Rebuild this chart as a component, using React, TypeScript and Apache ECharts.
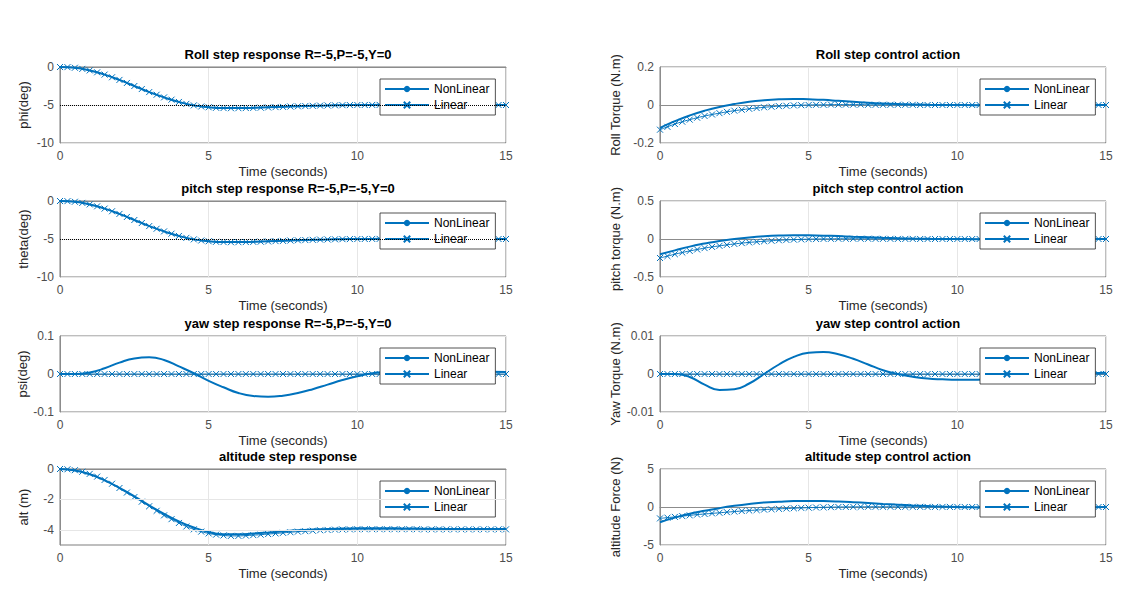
import React, { useEffect, useRef } from 'react';
import * as echarts from 'echarts';

// nonlinear sampled every 0.5 s, linear every 0.25 s
const tNon = Array.from({ length: 31 }, (_, i) => i * 0.5);
const tLin = Array.from({ length: 61 }, (_, i) => i * 0.25);

const rollNon = [0, -0.1, -0.45, -1.0, -1.7, -2.5, -3.3, -4.0, -4.6, -5.05, -5.3, -5.4, -5.4, -5.36, -5.3, -5.24, -5.17, -5.11, -5.06, -5.02, -5.0, -4.99, -4.98, -4.98, -4.98, -4.98, -4.98, -4.98, -4.99, -4.99, -5.0];
const rollLin = [0, -0.02, -0.1, -0.25, -0.45, -0.7, -1.0, -1.35, -1.7, -2.1, -2.5, -2.9, -3.3, -3.65, -4.0, -4.3, -4.6, -4.85, -5.05, -5.2, -5.3, -5.37, -5.4, -5.42, -5.42, -5.4, -5.38, -5.35, -5.32, -5.28, -5.25, -5.2, -5.17, -5.14, -5.11, -5.08, -5.06, -5.04, -5.02, -5.01, -5.0, -5.0, -4.99, -4.99, -4.98, -4.98, -4.98, -4.98, -4.98, -4.98, -4.98, -4.98, -4.98, -4.98, -4.99, -4.99, -4.99, -4.99, -5.0, -5.0, -5.0];
const yawNon = [0, 0, 0.004, 0.015, 0.03, 0.041, 0.044, 0.037, 0.02, 0.002, -0.018, -0.035, -0.05, -0.058, -0.06, -0.057, -0.05, -0.04, -0.028, -0.016, -0.006, 0.002, 0.007, 0.01, 0.011, 0.01, 0.009, 0.008, 0.007, 0.006, 0.005];
const yawLin = Array(61).fill(0);
const altNon = [0, -0.1, -0.35, -0.75, -1.25, -1.8, -2.4, -2.95, -3.45, -3.85, -4.15, -4.3, -4.3, -4.25, -4.18, -4.1, -4.03, -3.98, -3.94, -3.92, -3.9, -3.9, -3.9, -3.91, -3.92, -3.93, -3.94, -3.95, -3.95, -3.95, -3.95];
const altLin = [0, -0.02, -0.08, -0.18, -0.32, -0.5, -0.72, -0.97, -1.25, -1.55, -1.85, -2.15, -2.45, -2.75, -3.05, -3.3, -3.55, -3.78, -3.97, -4.12, -4.24, -4.32, -4.37, -4.4, -4.4, -4.38, -4.35, -4.32, -4.28, -4.24, -4.2, -4.16, -4.12, -4.09, -4.06, -4.03, -4.01, -3.99, -3.98, -3.97, -3.96, -3.96, -3.96, -3.96, -3.96, -3.96, -3.96, -3.96, -3.96, -3.97, -3.97, -3.97, -3.97, -3.97, -3.97, -3.97, -3.97, -3.97, -3.97, -3.97, -3.97];

const rollTqNon = [-0.12, -0.085, -0.055, -0.03, -0.01, 0.005, 0.017, 0.025, 0.03, 0.032, 0.03, 0.027, 0.022, 0.017, 0.012, 0.008, 0.005, 0.003, 0.001, 0, 0, -0.001, -0.001, -0.001, -0.001, 0, 0, 0, 0, 0, 0];
const rollTqLin = [-0.13, -0.115, -0.1, -0.088, -0.077, -0.067, -0.058, -0.05, -0.043, -0.036, -0.03, -0.025, -0.02, -0.016, -0.012, -0.009, -0.006, -0.004, -0.002, -0.001, 0, 0.001, 0.001, 0.002, 0.002, 0.002, 0.002, 0.002, 0.001, 0.001, 0.001, 0.001, 0.001, 0.001, 0.001, 0, 0, 0, 0, 0, 0, 0, 0, 0, 0, 0, 0, 0, 0, 0, 0, 0, 0, 0, 0, 0, 0, 0, 0, 0, 0];
const pitchTqNon = [-0.2, -0.15, -0.1, -0.06, -0.025, 0, 0.02, 0.035, 0.045, 0.05, 0.048, 0.044, 0.038, 0.03, 0.022, 0.015, 0.01, 0.005, 0.002, 0, 0, -0.002, -0.002, -0.002, -0.001, 0, 0, 0, 0, 0, 0];
const pitchTqLin = [-0.25, -0.225, -0.2, -0.178, -0.157, -0.138, -0.12, -0.104, -0.09, -0.077, -0.065, -0.054, -0.045, -0.037, -0.03, -0.023, -0.017, -0.012, -0.008, -0.005, -0.002, 0, 0.001, 0.002, 0.003, 0.003, 0.003, 0.003, 0.003, 0.002, 0.002, 0.002, 0.001, 0.001, 0.001, 0, 0, 0, 0, 0, 0, 0, 0, 0, 0, 0, 0, 0, 0, 0, 0, 0, 0, 0, 0, 0, 0, 0, 0, 0, 0];
const yawTqNon = [0, 0, -0.0008, -0.0028, -0.0042, -0.004, -0.0025, 0, 0.0025, 0.0045, 0.0056, 0.0058, 0.0052, 0.004, 0.0025, 0.001, 0, -0.0007, -0.0012, -0.0014, -0.0015, -0.0015, -0.0014, -0.0012, -0.001, -0.0007, -0.0004, -0.0001, 0.0001, 0.0002, 0.0003];
const yawTqLin = Array(61).fill(0);
const altFNon = [-2.0, -1.4, -0.9, -0.5, -0.15, 0.15, 0.4, 0.6, 0.7, 0.78, 0.8, 0.78, 0.72, 0.63, 0.52, 0.4, 0.3, 0.2, 0.12, 0.05, 0, -0.04, -0.06, -0.07, -0.07, -0.06, -0.05, -0.04, -0.03, -0.02, -0.01];
const altFLin = [-1.5, -1.4, -1.3, -1.2, -1.1, -1.0, -0.92, -0.84, -0.76, -0.68, -0.6, -0.53, -0.46, -0.4, -0.34, -0.29, -0.24, -0.2, -0.16, -0.12, -0.09, -0.06, -0.04, -0.02, 0, 0.01, 0.02, 0.02, 0.03, 0.03, 0.03, 0.03, 0.02, 0.02, 0.02, 0.02, 0.01, 0.01, 0.01, 0.01, 0.01, 0, 0, 0, 0, 0, 0, 0, 0, 0, 0, 0, 0, 0, 0, 0, 0, 0, 0, 0, 0];

const altTicks = [-4, -2, 0];

const panels = [
  { title: 'Roll step response R=-5,P=-5,Y=0', yName: 'phi(deg)', min: -10, max: 0, interval: 5, non: rollNon, lin: rollLin, ref: -5, col: 0, row: 0 },
  { title: 'pitch step response R=-5,P=-5,Y=0', yName: 'theta(deg)', min: -10, max: 0, interval: 5, non: rollNon, lin: rollLin, ref: -5, col: 0, row: 1 },
  { title: 'yaw step response R=-5,P=-5,Y=0', yName: 'psi(deg)', min: -0.1, max: 0.1, interval: 0.1, non: yawNon, lin: yawLin, ref: null, col: 0, row: 2 },
  { title: 'altitude step response', yName: 'alt (m)', min: -5, max: 0, interval: 1, non: altNon, lin: altLin, ref: -4, col: 0, row: 3, ticks: altTicks },
  { title: 'Roll step control action', yName: 'Roll Torque (N.m)', min: -0.2, max: 0.2, interval: 0.2, non: rollTqNon, lin: rollTqLin, ref: null, col: 1, row: 0 },
  { title: 'pitch step control action', yName: 'pitch torque (N.m)', min: -0.5, max: 0.5, interval: 0.5, non: pitchTqNon, lin: pitchTqLin, ref: null, col: 1, row: 1 },
  { title: 'yaw step control action', yName: 'Yaw Torque (N.m)', min: -0.01, max: 0.01, interval: 0.01, non: yawTqNon, lin: yawTqLin, ref: null, col: 1, row: 2 },
  { title: 'altitude step control action', yName: 'altitude Force (N)', min: -5, max: 5, interval: 5, non: altFNon, lin: altFLin, ref: null, col: 1, row: 3 },
];

const lefts = [60, 660];
const tops = [67, 201, 336, 469];
const W = 446;
const H = 76;
const blue = '#0072BD';
const font = 'Liberation Sans';

export default function App() {
  const ref = useRef<HTMLDivElement>(null);

  useEffect(() => {
    document.body.style.margin = '0';
    if (!ref.current) return;
    const chart = echarts.init(ref.current, null, { renderer: 'svg' });

    const grid: any[] = [];
    const xAxis: any[] = [];
    const yAxis: any[] = [];
    const title: any[] = [];
    const legend: any[] = [];
    const series: any[] = [];

    panels.forEach((p: any, i) => {
      const left = lefts[p.col];
      const top = tops[p.row];
      grid.push({ left, top, width: W, height: H, show: true, borderColor: '#262626', borderWidth: 0.6, backgroundColor: '#fff' });
      title.push({
        text: p.title, left: left + W / 2, top: top - 24, textAlign: 'center',
        textStyle: { fontFamily: font, fontSize: 13, fontWeight: 'bold', color: '#000' },
      });
      xAxis.push({
        gridIndex: i, type: 'value', min: 0, max: 15, interval: 5,
        name: 'Time (seconds)', nameLocation: 'middle', nameGap: 22,
        nameTextStyle: { fontFamily: font, fontSize: 13, color: '#262626' },
        axisLine: { lineStyle: { color: '#8c8c8c' } },
        axisTick: { show: false },
        axisLabel: { fontFamily: font, fontSize: 12, color: '#4d4d4d', margin: 7 },
        splitLine: { show: true, lineStyle: { color: '#e6e6e6' } },
      });
      yAxis.push({
        gridIndex: i, type: 'value', min: p.min, max: p.max, interval: p.interval,
        name: p.yName, nameLocation: 'middle', nameGap: p.col === 0 ? 30 : 38,
        nameTextStyle: { fontFamily: font, fontSize: 13, color: '#262626' },
        axisLine: { show: true, lineStyle: { color: '#8c8c8c' } },
        axisTick: { show: false },
        axisLabel: p.ticks
          ? { fontFamily: font, fontSize: 12, color: '#4d4d4d', margin: 6, formatter: (v: number) => (p.ticks.includes(v) ? String(v) : '') }
          : { fontFamily: font, fontSize: 12, color: '#4d4d4d', margin: 6 },
        splitLine: { show: !p.ticks, lineStyle: { color: '#e6e6e6' } },
      });
      legend.push({
        left: left + 320, top: top + 12, orient: 'vertical', itemGap: 4,
        itemWidth: 44, itemHeight: 8,
        backgroundColor: '#fff', borderColor: '#262626', borderWidth: 0.8, padding: [4, 6, 4, 4],
        textStyle: { fontFamily: font, fontSize: 12, color: '#000' },
        data: ['NonLinear', 'Linear'],
      });
      series.push({
        name: 'NonLinear', type: 'line', xAxisIndex: i, yAxisIndex: i, smooth: true,
        data: p.non.map((v: number, k: number) => [tNon[k], v]), symbol: 'none',
        lineStyle: { color: blue, width: 2 }, itemStyle: { color: blue },
        markLine: p.ref === null ? undefined : {
          silent: true, symbol: 'none', label: { show: false },
          lineStyle: { color: '#000', type: 'dotted', width: 1 },
          data: [{ yAxis: p.ref }],
        },
      });
      series.push({
        name: 'Linear', type: 'line', xAxisIndex: i, yAxisIndex: i, smooth: true,
        data: p.lin.map((v: number, k: number) => [tLin[k], v]),
        symbol: 'path://M0,0L10,10M10,0L0,10', symbolSize: 6,
        lineStyle: { color: blue, width: 1 },
        itemStyle: { color: 'none', borderColor: blue, borderWidth: 1 },
      });
      if (p.ticks) {
        // horizontal grid lines only at the labelled ticks
        series.push({
          type: 'line', xAxisIndex: i, yAxisIndex: i, data: [], silent: true,
          markLine: {
            silent: true, symbol: 'none', label: { show: false },
            lineStyle: { color: '#e6e6e6', type: 'solid', width: 1 },
            data: p.ticks.filter((v: number) => v !== p.max).map((v: number) => ({ yAxis: v })),
          },
          z: 0,
        });
      }
    });

    chart.setOption({ animation: false, backgroundColor: '#fff', grid, xAxis, yAxis, title, legend, series });
    return () => chart.dispose();
  }, []);

  return <div ref={ref} style={{ width: 1138, height: 612 }} />;
}
